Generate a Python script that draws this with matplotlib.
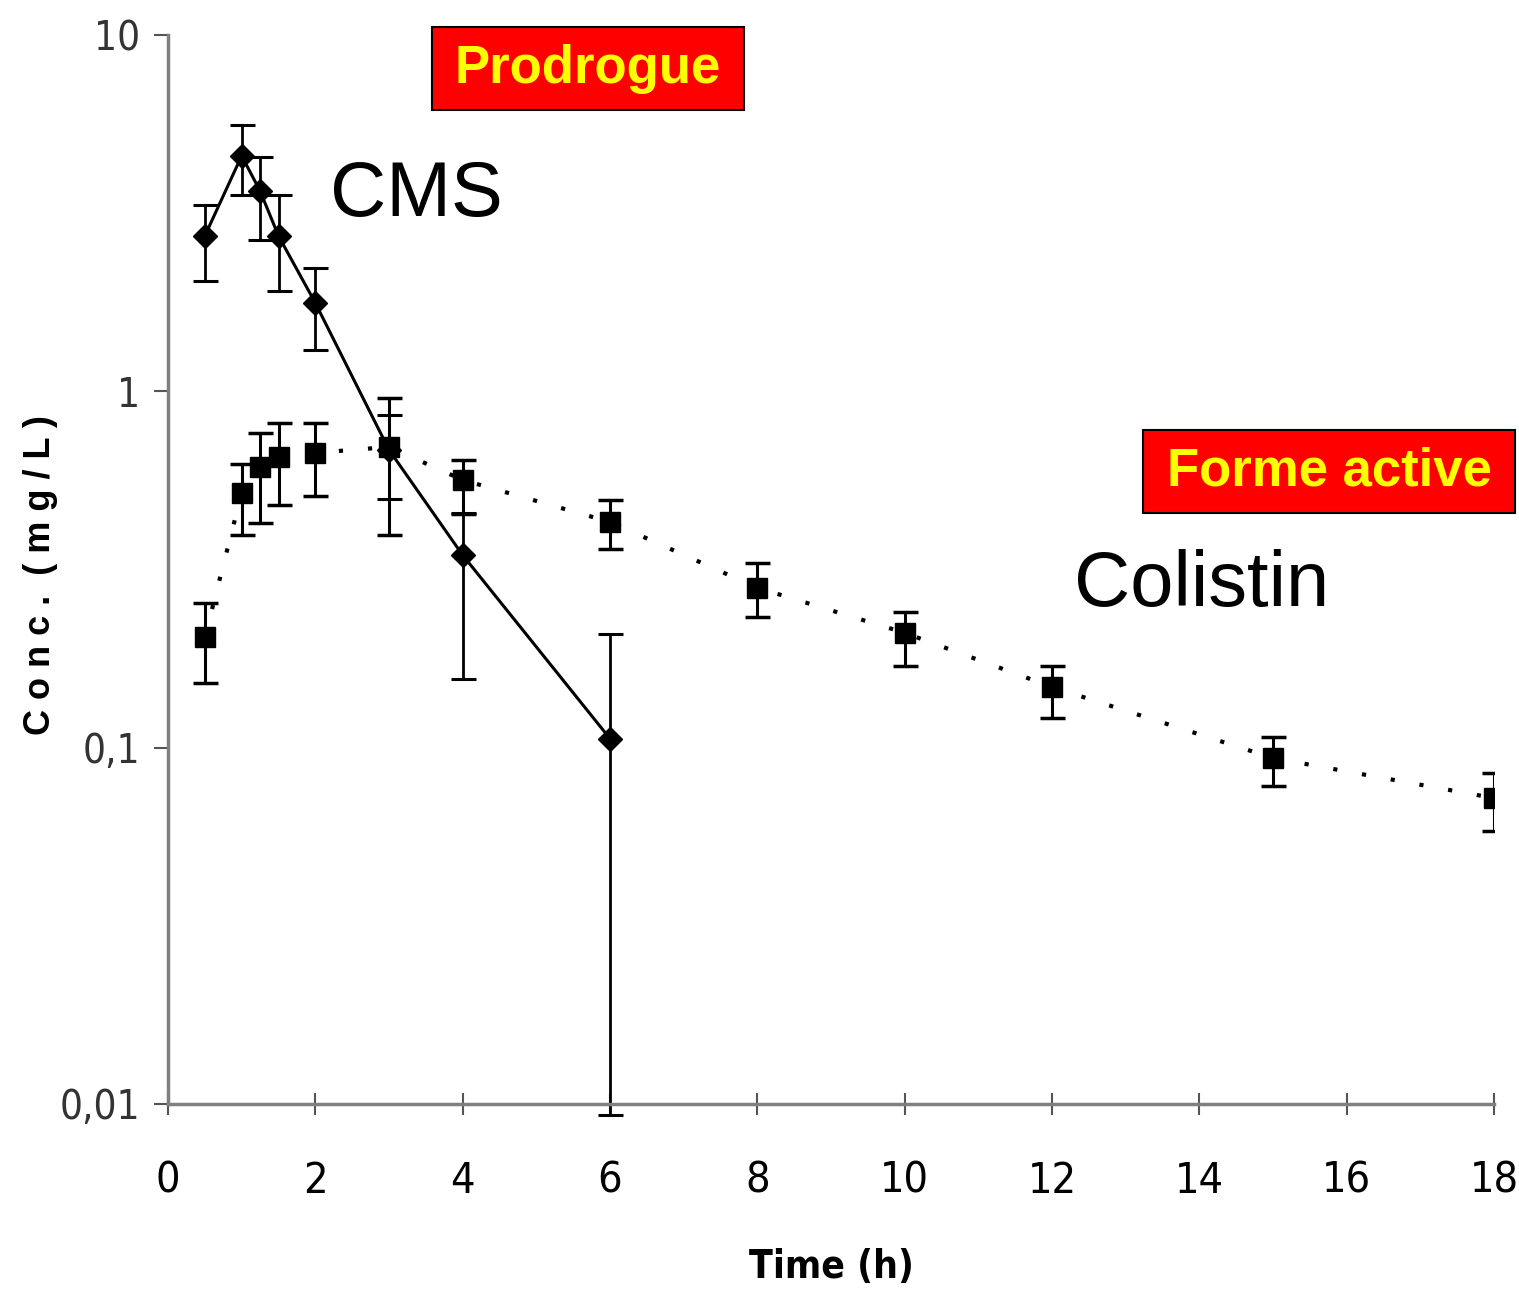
import matplotlib
matplotlib.use("Agg")
import matplotlib.pyplot as plt
from matplotlib.patches import Rectangle

# CMS (prodrug) - mean and error limits
cms_t = [0.5, 1, 1.25, 1.5, 2, 3, 4, 6]
cms_c = [2.73, 4.58, 3.65, 2.73, 1.77, 0.685, 0.347, 0.106]
cms_hi = [3.34, 5.6, 4.55, 3.55, 2.22, 0.86, 0.456, 0.208]
cms_lo = [2.04, 3.56, 2.66, 1.91, 1.31, 0.50, 0.156, 0.0093]

# Colistin (active form)
col_t = [0.5, 1, 1.25, 1.5, 2, 3, 4, 6, 8, 10, 12, 15, 18]
col_c = [0.204, 0.518, 0.613, 0.655, 0.672, 0.698, 0.564, 0.43, 0.281, 0.21, 0.148, 0.0935, 0.0722]
col_hi = [0.255, 0.625, 0.764, 0.815, 0.815, 0.96, 0.642, 0.496, 0.33, 0.24, 0.17, 0.107, 0.085]
col_lo = [0.152, 0.395, 0.427, 0.48, 0.508, 0.395, 0.453, 0.361, 0.233, 0.17, 0.121, 0.078, 0.0584]

xticks = [0, 2, 4, 6, 8, 10, 12, 14, 16, 18]
yticks = [0.01, 0.1, 1, 10]
ylabels = ["0,01", "0,1", "1", "10"]

W, H = 1519, 1298
fig = plt.figure(figsize=(W / 100, H / 100), dpi=100)
ax = fig.add_axes([168 / W, 1 - 1104 / H, (1494 - 168) / W, (1104 - 35) / H])

narrow = dict(family="DejaVu Sans", stretch="condensed")

# CMS: solid line, diamonds
err = [[c - l for c, l in zip(cms_c, cms_lo)], [h - c for c, h in zip(cms_c, cms_hi)]]
eb = ax.errorbar(cms_t, cms_c, yerr=err, fmt="-", color="black", lw=2.2,
                 marker="D", markersize=12, elinewidth=2, capsize=9, capthick=2.2)
for art in eb.lines[1] + eb.lines[2]:
    art.set_clip_on(False)

# Colistin: dotted line, squares
err2 = [[c - l for c, l in zip(col_c, col_lo)], [h - c for c, h in zip(col_c, col_hi)]]
ax.errorbar(col_t, col_c, yerr=err2, fmt="none", ecolor="black",
            elinewidth=2.2, capsize=9, capthick=2.5)
ax.plot(col_t, col_c, color="black", lw=3, linestyle=(0, (1, 6)))
ax.plot(col_t, col_c, linestyle="none", marker="s", markersize=15, color="black")

ax.set_yscale("log")
ax.set_xlim(0, 18)
ax.set_ylim(0.01, 10)
ax.set_xticks(xticks)
ax.set_xticklabels([str(v) for v in xticks], fontsize=31, **narrow)
ax.set_yticks(yticks)
ax.set_yticklabels(ylabels, fontsize=29, color="#333333", **narrow)
ax.minorticks_off()
ax.tick_params(axis="x", direction="inout", length=16, width=1.5, color="#555555", pad=32)
ax.tick_params(axis="y", direction="out", length=10, width=1.5, color="#555555", pad=10)

for s in ["top", "right"]:
    ax.spines[s].set_visible(False)
for s in ["left", "bottom"]:
    ax.spines[s].set_color("#808080")
    ax.spines[s].set_linewidth(2.5)

ax.set_xlabel("Time (h)", fontsize=28, fontweight="bold", **narrow)
ax.xaxis.set_label_coords(0.5, -0.135)
ax.set_ylabel("C o n c .  ( m g / L )", fontsize=26, fontweight="bold", family="Liberation Sans")
ax.yaxis.set_label_coords(-0.083, 0.495)

# series labels
ax.text(2.2, 3.55, "CMS", fontsize=56, family="Liberation Sans", va="center", ha="left")
ax.text(12.3, 0.285, "Colistin", fontsize=56, family="Liberation Sans", va="center", ha="left")

# red boxes
def box(x0, y0, x1, y1, label):
    fig.patches.append(Rectangle((x0 / W, 1 - y1 / H), (x1 - x0) / W, (y1 - y0) / H,
                                 transform=fig.transFigure, facecolor="#ff0000",
                                 edgecolor="black", lw=1.5))
    fig.text((x0 + x1) / 2 / W, 1 - (y0 + y1) / 2 / H, label, color="#ffff00",
             fontsize=38, fontweight="bold", family="Liberation Sans",
             ha="center", va="center")

box(432, 27, 744, 110, "Prodrogue")
box(1143, 430, 1515, 513, "Forme active")

fig.savefig("out.png", dpi=100)
